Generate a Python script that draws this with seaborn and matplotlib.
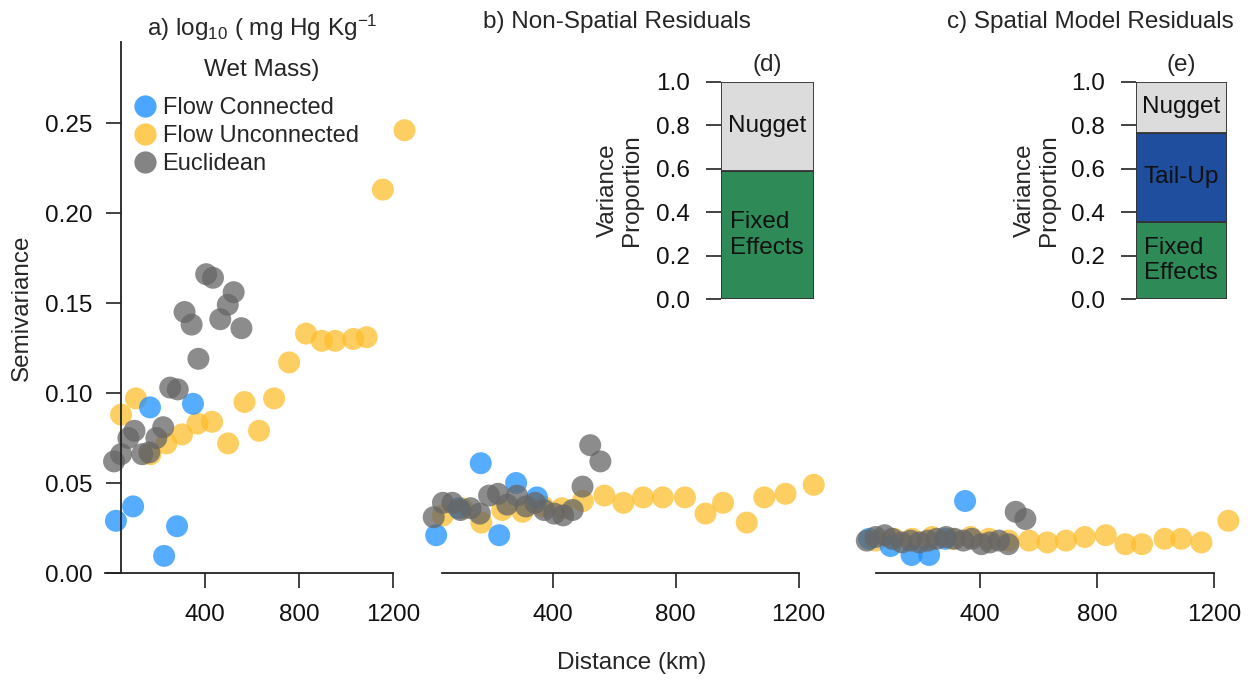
import numpy as np
import pandas as pd
import matplotlib
matplotlib.use("Agg")
import matplotlib.pyplot as plt
import seaborn as sns
from matplotlib.lines import Line2D

W, H = 1252, 684

# distances (km) for each lag class
unconn_km = [43, 106, 168, 236, 302, 368, 430, 498, 568, 630, 694, 758, 830, 897, 954, 1031, 1088, 1157, 1249]
conn_km = [21, 94, 166, 226, 281, 349]
eucl_km = [13, 43, 74, 100, 133, 163, 193, 222, 252, 284, 313, 343, 372, 405, 434, 465, 497, 522, 555]

# semivariance, panel a (raw), b (non-spatial residuals), c (spatial model residuals)
unconn_a = [0.088, 0.097, 0.066, 0.072, 0.077, 0.083, 0.084, 0.072, 0.095, 0.079, 0.097, 0.117, 0.133, 0.129, 0.129, 0.130, 0.131, 0.213, 0.246]
unconn_b = [0.032, 0.036, 0.028, 0.035, 0.034, 0.037, 0.036, 0.040, 0.043, 0.039, 0.042, 0.042, 0.042, 0.033, 0.039, 0.028, 0.042, 0.044, 0.049]
unconn_c = [0.018, 0.019, 0.019, 0.020, 0.019, 0.020, 0.019, 0.018, 0.018, 0.017, 0.018, 0.020, 0.021, 0.016, 0.016, 0.019, 0.019, 0.017, 0.029]

conn_a = [0.029, 0.037, 0.092, 0.0095, 0.026, 0.094]
conn_b = [0.021, 0.036, 0.061, 0.021, 0.050, 0.042]
conn_c = [0.019, 0.015, 0.010, 0.010, 0.019, 0.040]

eucl_a = [0.062, 0.066, 0.075, 0.079, 0.066, 0.067, 0.075, 0.081, 0.103, 0.102, 0.145, 0.138, 0.119, 0.166, 0.164, 0.141, 0.149, 0.156, 0.136]
eucl_b = [0.031, 0.039, 0.039, 0.035, 0.036, 0.033, 0.043, 0.044, 0.038, 0.043, 0.037, 0.039, 0.035, 0.033, 0.032, 0.035, 0.048, 0.071, 0.062]
eucl_c = [0.018, 0.020, 0.021, 0.019, 0.017, 0.018, 0.017, 0.018, 0.019, 0.020, 0.019, 0.018, 0.019, 0.016, 0.017, 0.018, 0.016, 0.034, 0.030]

# variance components for the insets
comp_labels = ["Fixed\nEffects", "Tail-Up", "Nugget"]
comp_d = [0.59, 0.0, 0.41]
comp_e = [0.355, 0.41, 0.235]

types = ["Flow Unconnected", "Flow Connected", "Euclidean"]
palette = {"Flow Connected": "#1E90FF", "Flow Unconnected": "#FDBE2C", "Euclidean": "#666666"}
comp_colors = ["#2E8B57", "#1F4E9E", "#DCDCDC"]


def build_df():
    rows = []
    sets = {
        "a": (unconn_a, conn_a, eucl_a),
        "b": (unconn_b, conn_b, eucl_b),
        "c": (unconn_c, conn_c, eucl_c),
    }
    for panel, (u, c, e) in sets.items():
        for name, km, vals in zip(types, (unconn_km, conn_km, eucl_km), (u, c, e)):
            for d, v in zip(km, vals):
                rows.append({"panel": panel, "type": name, "dist": d, "semivar": v})
    return pd.DataFrame(rows)


def px_axes(fig, x0, x1, y0, y1):
    return fig.add_axes([x0 / W, 1 - y1 / H, (x1 - x0) / W, (y1 - y0) / H])


def main():
    sns.set_style("ticks")
    plt.rcParams["font.family"] = ["Liberation Sans", "DejaVu Sans"]
    plt.rcParams["mathtext.fontset"] = "custom"
    plt.rcParams["mathtext.rm"] = "Liberation Sans"
    plt.rcParams["mathtext.default"] = "regular"
    fs = 17.5

    df = build_df()
    fig = plt.figure(figsize=(W / 100, H / 100), dpi=100)

    # y pixel = 573 - 1800 * v ; axes span pixel 40..590
    ylim = ((573 - 590) / 1800, (573 - 40) / 1800)
    # (x pixel range, px of km 0, px per km, left spine km, bottom spine start)
    panels = {
        "a": (104, 412, 111.0, 0.235, 41, -25),
        "b": (425, 835, 429.7, 0.3075, None, 40),
        "c": (855, 1250, 863.0, 0.2925, None, 43),
    }
    axes = {}
    for key, (x0, x1, p0, scale, lspine, bstart) in panels.items():
        ax = px_axes(fig, x0, x1, 40, 590)
        sub = df[df["panel"] == key]
        sns.scatterplot(data=sub, x="dist", y="semivar", hue="type", palette=palette,
                        hue_order=types, s=250, alpha=0.75, linewidth=0,
                        legend=False, clip_on=False, ax=ax)
        ax.set_xlim((x0 - p0) / scale, (x1 - p0) / scale)
        ax.set_ylim(*ylim)
        ax.set_xlabel("")
        ax.set_ylabel("")
        ax.set_xticks([400, 800, 1200])
        ax.tick_params(axis="both", direction="out", length=11, width=1.2,
                       labelsize=fs, pad=9, color="#222222", labelcolor="#111111")
        ax.tick_params(axis="x", pad=11)
        for s in ["top", "right"]:
            ax.spines[s].set_visible(False)
        ax.spines["bottom"].set_position(("data", 0))
        ax.spines["bottom"].set_bounds(bstart, 1200)
        ax.spines["bottom"].set_linewidth(1.3)
        ax.spines["bottom"].set_color("#222222")
        if lspine is None:
            ax.spines["left"].set_visible(False)
            ax.set_yticks([])
        else:
            ax.spines["left"].set_position(("data", lspine))
            ax.spines["left"].set_bounds(0, 0.295)
            ax.spines["left"].set_linewidth(1.3)
            ax.spines["left"].set_color("#222222")
            ax.set_yticks([0, 0.05, 0.10, 0.15, 0.20, 0.25])
            ax.set_yticklabels(["0.00", "0.05", "0.10", "0.15", "0.20", "0.25"])
        ax.patch.set_alpha(0)
        axes[key] = ax

    # legend in panel a
    leg_order = ["Flow Connected", "Flow Unconnected", "Euclidean"]
    handles = [Line2D([], [], marker="o", linestyle="", markersize=16, markeredgewidth=0,
                      color=palette[t], alpha=0.8) for t in leg_order]
    axes["a"].legend(handles, leg_order,
                     loc="upper left", bbox_to_anchor=(133 / W, 1 - 97 / H),
                     bbox_transform=fig.transFigure, frameon=False, fontsize=fs - 0.5,
                     handlelength=1.0, handletextpad=0.25, labelspacing=0.26, borderpad=0,
                     borderaxespad=0)

    # titles
    fig.text(262 / W, 1 - 28 / H, r"a) log$_{10}$ ( mg Hg Kg$^{-1}$", ha="center", va="center", fontsize=fs)
    fig.text(262 / W, 1 - 70 / H, "Wet Mass)", ha="center", va="center", fontsize=fs)
    fig.text(617 / W, 1 - 22 / H, "b) Non-Spatial Residuals", ha="center", va="center", fontsize=fs)
    fig.text(1090 / W, 1 - 22 / H, "c) Spatial Model Residuals", ha="center", va="center", fontsize=fs)
    fig.text(22 / W, 1 - 308 / H, "Semivariance", rotation=90, ha="center", va="center", fontsize=fs)
    fig.text(632 / W, 1 - 663 / H, "Distance (km)", ha="center", va="center", fontsize=fs)

    # variance proportion insets
    insets = {"(d)": (720.7, 814, comp_d, 620), "(e)": (1135.7, 1227, comp_e, 1037)}
    for title, (x0, x1, comps, lab_x) in insets.items():
        ax = px_axes(fig, x0, x1, 81.7, 299)
        bottom = 0.0
        for lab, val, col in zip(comp_labels, comps, comp_colors):
            if val <= 0:
                continue
            ax.bar([0], [val], bottom=bottom, width=1, align="edge", color=col,
                   edgecolor="#333333", linewidth=1.3)
            ax.text(0.5, bottom + val / 2, lab, ha="center", va="center",
                    multialignment="left", fontsize=fs, color="#111111")
            bottom += val
        ax.set_xlim(0, 1)
        ax.set_ylim(0, 1)
        ax.set_xticks([])
        ax.set_yticks([0, 0.2, 0.4, 0.6, 0.8, 1.0])
        ax.set_yticklabels(["0.0", "0.2", "0.4", "0.6", "0.8", "1.0"])
        ax.tick_params(axis="y", direction="out", length=11, width=1.2, labelsize=fs,
                       pad=11, color="#222222", labelcolor="#111111")
        for s in ax.spines.values():
            s.set_visible(False)
        ax.set_title(title, fontsize=fs, pad=8)
        fig.text(lab_x / W, 1 - 190 / H, "Variance\nProportion", rotation=90,
                 ha="center", va="center", fontsize=fs, linespacing=1.1)

    fig.savefig("out.png", dpi=100)
    plt.close(fig)


if __name__ == "__main__":
    main()
